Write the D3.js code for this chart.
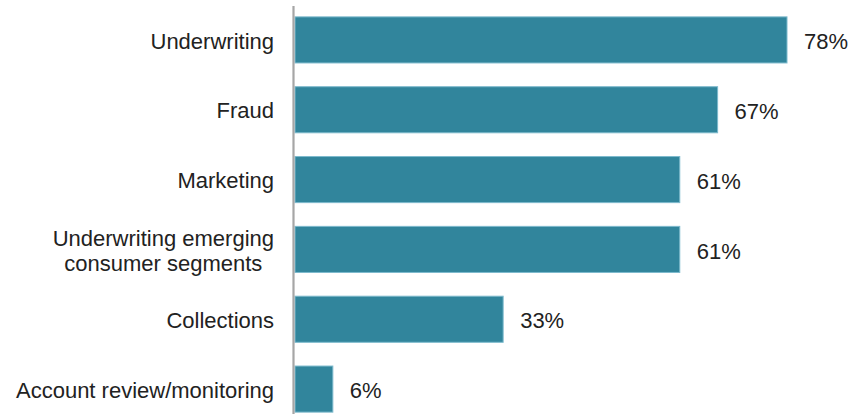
<!DOCTYPE html>
<html>
<head>
<meta charset="utf-8">
<script src="https://cdn.jsdelivr.net/npm/d3@7"></script>
<style>
  html, body { margin: 0; padding: 0; background: #fff; }
  svg { display: block; }
</style>
</head>
<body>
<svg id="chart" width="863" height="414"></svg>
<script>
// Share of respondents by use case (%)
const categories = [
  "Underwriting",
  "Fraud",
  "Marketing",
  "Underwriting emerging consumer segments",
  "Collections",
  "Account review/monitoring"
];
const values = [78, 67, 61, 61, 33, 6];
// How each category label wraps onto lines
const labelLines = [
  ["Underwriting"],
  ["Fraud"],
  ["Marketing"],
  ["Underwriting emerging", "consumer segments"],
  ["Collections"],
  ["Account review/monitoring"]
];

const svg = d3.select("#chart");
const axisX = 293.5;
const x0 = 295;
const labelRight = 274;

const x = d3.scaleLinear().domain([0, 78]).range([x0, 787]);
const y = d3.scaleBand()
  .domain(categories)
  .range([5, 424])
  .paddingInner(0.34)
  .paddingOuter(0.17);

// Bars
svg.append("g").selectAll("rect")
  .data(categories)
  .join("rect")
  .attr("x", x(0))
  .attr("y", d => y(d))
  .attr("width", (d, i) => x(values[i]) - x(0))
  .attr("height", y.bandwidth())
  .attr("fill", "#31859c")
  .attr("stroke", "#7dbacd")
  .attr("stroke-width", 1);

// Vertical category axis line
svg.append("line")
  .attr("x1", axisX).attr("x2", axisX)
  .attr("y1", 6).attr("y2", 414)
  .attr("stroke", "#a6a6a6")
  .attr("stroke-width", 2.2);

// Category labels: the block is right-aligned to the axis, wrapped lines are centred in it
const catG = svg.append("g")
  .attr("font-family", "Liberation Sans, Arial, sans-serif")
  .attr("font-size", "22px")
  .attr("fill", "#222");
categories.forEach((c, i) => {
  const lines = labelLines[i];
  const cy = y(c) + y.bandwidth() / 2 + 1;
  const lh = 25;
  const t = catG.append("text").attr("text-anchor", "middle");
  const spans = lines.map((ln, j) => t.append("tspan")
    .attr("y", cy + (j - (lines.length - 1) / 2) * lh)
    .attr("dy", "0.35em")
    .text(ln));
  const widest = d3.max(spans, s => s.node().getComputedTextLength());
  spans.forEach(s => s.attr("x", labelRight - widest / 2));
});

// Value labels
svg.append("g")
  .attr("font-family", "Liberation Sans, Arial, sans-serif")
  .attr("font-size", "22px")
  .attr("fill", "#222")
  .selectAll("text")
  .data(categories)
  .join("text")
  .attr("x", (d, i) => x(values[i]) + 17)
  .attr("y", d => y(d) + y.bandwidth() / 2 + 1.5)
  .attr("dy", "0.35em")
  .text((d, i) => values[i] + "%");
</script>
</body>
</html>
